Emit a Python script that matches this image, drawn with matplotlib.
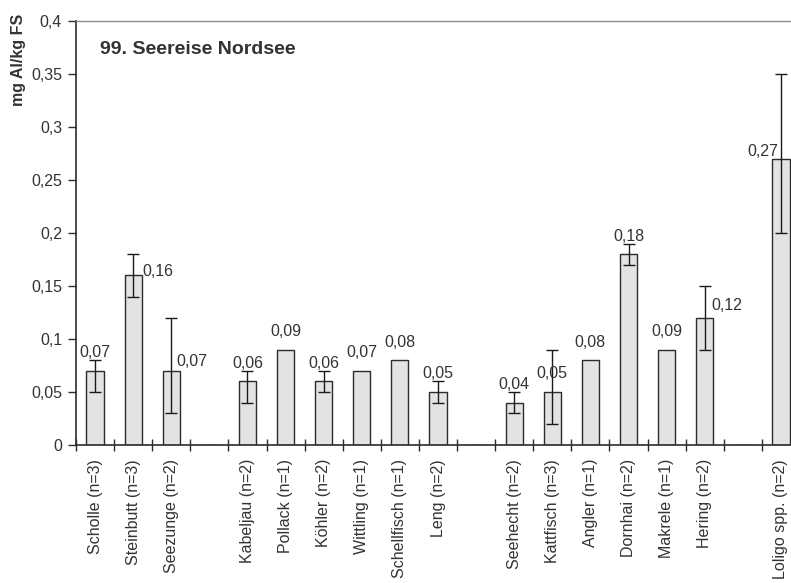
import numpy as np
import matplotlib
matplotlib.use("Agg")
import matplotlib.pyplot as plt
from matplotlib.ticker import FuncFormatter

# categories (empty strings are the blank gap slots of the original chart)
categories = ["Scholle (n=3)", "Steinbutt (n=3)", "Seezunge (n=2)", "",
              "Kabeljau (n=2)", "Pollack (n=1)", "Köhler (n=2)", "Wittling (n=1)",
              "Schellfisch (n=1)", "Leng (n=2)", "",
              "Seehecht (n=2)", "Kattfisch (n=3)", "Angler (n=1)", "Dornhai (n=2)",
              "Makrele (n=1)", "Hering (n=2)", "", "Loligo spp. (n=2)"]
values = [0.07, 0.16, 0.07, np.nan,
          0.06, 0.09, 0.06, 0.07, 0.08, 0.05, np.nan,
          0.04, 0.05, 0.08, 0.18, 0.09, 0.12, np.nan, 0.27]
# error bar ends (absolute), nan = no error bar
err_low = [0.05, 0.14, 0.03, np.nan,
           0.04, np.nan, 0.05, np.nan, np.nan, 0.04, np.nan,
           0.03, 0.02, np.nan, 0.17, np.nan, 0.09, np.nan, 0.20]
err_high = [0.08, 0.18, 0.12, np.nan,
            0.07, np.nan, 0.07, np.nan, np.nan, 0.06, np.nan,
            0.05, 0.09, np.nan, 0.19, np.nan, 0.15, np.nan, 0.35]
yticks = [0, 0.05, 0.1, 0.15, 0.2, 0.25, 0.3, 0.35, 0.4]

# label nudges for the few labels that Excel placed beside the bar
label_shift = {1: (0.66, -0.013), 2: (0.55, -0.008), 16: (0.58, -0.005), 18: (-0.47, -0.010)}

plt.rcParams["font.family"] = ["Liberation Sans", "DejaVu Sans"]
plt.rcParams["font.size"] = 11.5
txt = "#333333"

fig = plt.figure(figsize=(7.91, 5.83), dpi=100)
ax = fig.add_axes([76 / 791, 138 / 583, 724 / 791, 424 / 583])

x = np.arange(len(categories))
vals = np.array(values, dtype=float)
lo = vals - np.array(err_low, dtype=float)
hi = np.array(err_high, dtype=float) - vals

ax.bar(x, np.nan_to_num(vals), width=0.45, color="#e3e3e3", edgecolor="#2b2b2b",
       linewidth=1.0, zorder=2)
ax.errorbar(x, vals, yerr=[lo, hi], fmt="none", ecolor="#1a1a1a",
            elinewidth=1.0, capsize=4.5, capthick=1.0, zorder=3)

for i, v in enumerate(values):
    if np.isnan(v):
        continue
    dx, dy = label_shift.get(i, (0, 0))
    ax.text(i + dx, v + 0.017 + dy, f"{v:.2f}".replace(".", ","),
            ha="center", va="center", color=txt, fontsize=11.5, zorder=4)

ax.set_xlim(-0.5, len(categories) - 0.5)
ax.set_ylim(0, 0.4)
ax.set_yticks(yticks)
ax.yaxis.set_major_formatter(FuncFormatter(lambda v, p: f"{v:g}".replace(".", ",")))

# tick marks at category boundaries, labels at centers
ax.set_xticks(np.arange(-0.5, len(categories), 1.0))
ax.set_xticklabels([])
ax.set_xticks(x, minor=True)
ax.set_xticklabels(categories, minor=True, rotation=90, color=txt, fontsize=11.5)
ax.tick_params(axis="x", which="major", direction="inout", length=8, width=1.0, color="#2b2b2b")
ax.tick_params(axis="x", which="minor", length=0, pad=10)
ax.tick_params(axis="y", direction="out", length=6, width=1.0, color="#2b2b2b",
               labelcolor=txt, labelsize=11.5, pad=4)

ax.spines["right"].set_visible(False)
ax.spines["top"].set_color("#8c8c8c")
ax.spines["top"].set_linewidth(1.0)
ax.spines["left"].set_color("#2b2b2b")
ax.spines["bottom"].set_color("#2b2b2b")
ax.spines["left"].set_linewidth(1.2)
ax.spines["bottom"].set_linewidth(1.2)

fig.text(19 / 791, 1 - 60 / 583, "mg Al/kg FS", rotation=90, ha="center", va="center",
         fontweight="bold", fontsize=11.5, color=txt)
fig.text(100 / 791, 1 - 49 / 583, "99. Seereise Nordsee", ha="left", va="center",
         fontweight="bold", fontsize=14, color=txt)

fig.savefig("out.png", dpi=100)
